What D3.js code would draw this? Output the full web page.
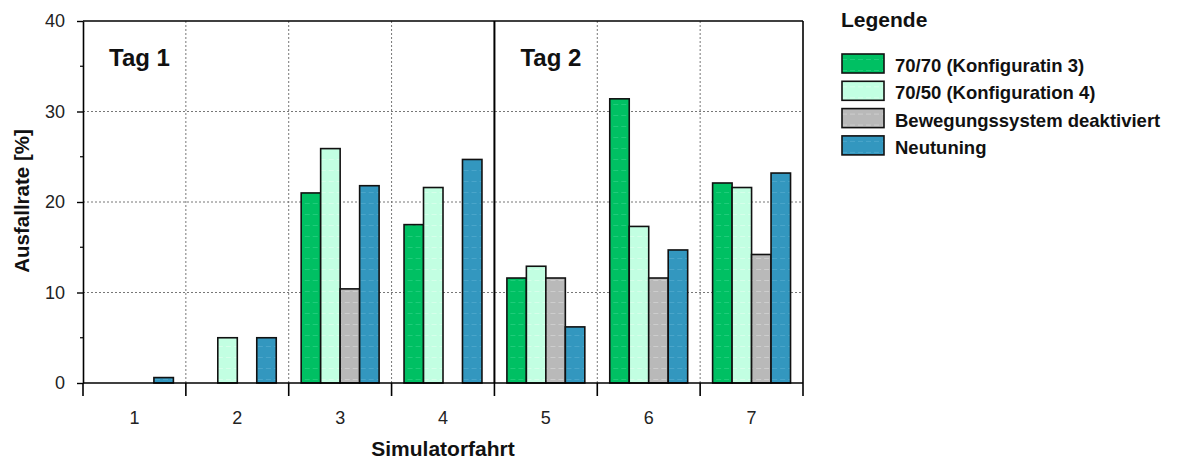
<!DOCTYPE html>
<html>
<head>
<meta charset="utf-8">
<script src="https://cdn.jsdelivr.net/npm/d3@7"></script>
<style>
  body { margin: 0; background: #fff; }
  svg { display: block; font-family: "Liberation Sans", Arial, sans-serif; }
</style>
</head>
<body>
<svg id="chart" width="1177" height="462"></svg>
<script>
// Simulator runs (x categories)
const runs = ["1", "2", "3", "4", "5", "6", "7"];
// Series names and colours
const seriesNames = ["70/70 (Konfiguratin 3)", "70/50 (Konfiguration 4)", "Bewegungssystem deaktiviert", "Neutuning"];
const seriesColors = ["#00c063", "#c2ffe2", "#b9b9b9", "#3397bf"];
const seriesLight = ["#33d488", "#e2fff0", "#dadada", "#5aafd2"];
// Failure rates [%] per series, one value per run
const konfig3 = [0, 0, 21.0, 17.5, 11.6, 31.4, 22.1];
const konfig4 = [0, 5.0, 25.9, 21.6, 12.9, 17.3, 21.6];
const deaktiviert = [0, 0, 10.4, 0, 11.6, 11.6, 14.2];
const neutuning = [0.6, 5.0, 21.8, 24.7, 6.2, 14.7, 23.2];
const seriesValues = [konfig3, konfig4, deaktiviert, neutuning];
// Axis ticks
const yTicks = [0, 10, 20, 30, 40];
const yMinorTicks = [5, 15, 25, 35];
const dayLabels = [{ text: "Tag 1", run: 0 }, { text: "Tag 2", run: 4 }];

const svg = d3.select("#chart");
const margin = { left: 83, right: 374, top: 21, bottom: 79 };
const W = 1177, H = 462;
const x0 = margin.left, x1 = W - margin.right;
const y0 = H - margin.bottom, y1 = margin.top;

const x = d3.scaleBand().domain(runs).range([x0, x1]).paddingInner(0).paddingOuter(0);
const xs = d3.scaleBand().domain(d3.range(4)).range([0, x.bandwidth()]).paddingOuter(0.64).paddingInner(0);
const y = d3.scaleLinear().domain([0, 40]).range([y0, y1]);

// Bar fill patterns: base colour with faint dashed horizontal stripes
const defs = svg.append("defs");
seriesColors.forEach((c, i) => {
  const p = defs.append("pattern").attr("id", "pat" + i)
    .attr("patternUnits", "userSpaceOnUse").attr("width", 8).attr("height", 11);
  p.append("rect").attr("width", 8).attr("height", 11).attr("fill", c);
  p.append("line").attr("x1", 0).attr("x2", 5).attr("y1", 5.5).attr("y2", 5.5)
    .attr("stroke", seriesLight[i]).attr("stroke-width", 1).attr("opacity", 0.6);
});

// Grid: horizontal dotted lines
svg.append("g").selectAll("line").data(yTicks.filter(d => d > 0 && d < 40)).join("line")
  .attr("x1", x0).attr("x2", x1).attr("y1", d => y(d)).attr("y2", d => y(d))
  .attr("stroke", "#777").attr("stroke-width", 1).attr("stroke-dasharray", "2,2");
// Grid: vertical dotted lines at run boundaries (solid line between the two days)
svg.append("g").selectAll("line").data(runs.slice(1)).join("line")
  .attr("x1", d => x(d)).attr("x2", d => x(d)).attr("y1", y1).attr("y2", y0)
  .attr("stroke", d => d === "5" ? "#000" : "#777")
  .attr("stroke-width", d => d === "5" ? 2 : 1)
  .attr("stroke-dasharray", d => d === "5" ? null : "2,2");

// Bars
const groups = svg.append("g").selectAll("g").data(runs).join("g")
  .attr("transform", d => `translate(${x(d)},0)`);
groups.selectAll("rect")
  .data((d, ri) => seriesValues.map((vals, si) => ({ si, v: vals[ri] })).filter(e => e.v > 0))
  .join("rect")
  .attr("x", e => xs(e.si))
  .attr("width", xs.bandwidth())
  .attr("y", e => y(e.v))
  .attr("height", e => y0 - y(e.v))
  .attr("fill", e => `url(#pat${e.si})`)
  .attr("stroke", "#111").attr("stroke-width", 1.6);

// Frame: top and right borders
svg.append("line").attr("x1", x0).attr("x2", x1).attr("y1", y1).attr("y2", y1).attr("stroke", "#000").attr("stroke-width", 1.6);
svg.append("line").attr("x1", x1).attr("x2", x1).attr("y1", y1).attr("y2", y0).attr("stroke", "#000").attr("stroke-width", 1.6);

// Y axis
const yAxis = d3.axisLeft(y).tickValues(yTicks).tickSize(6).tickPadding(12).tickSizeOuter(0);
const gy = svg.append("g").attr("transform", `translate(${x0},0)`).call(yAxis);
gy.select(".domain").attr("stroke", "#000").attr("stroke-width", 1.6);
gy.selectAll(".tick line").attr("stroke", "#000").attr("stroke-width", 1.4);
gy.selectAll(".tick text").attr("font-size", 18).attr("fill", "#222")
  .attr("font-family", "Liberation Sans, Arial, sans-serif");
svg.append("g").selectAll("line").data(yMinorTicks).join("line")
  .attr("x1", x0 - 3).attr("x2", x0).attr("y1", d => y(d)).attr("y2", d => y(d))
  .attr("stroke", "#000").attr("stroke-width", 1.2);

// X axis: ticks at run boundaries, labels centred
svg.append("line").attr("x1", x0).attr("x2", x1).attr("y1", y0).attr("y2", y0).attr("stroke", "#000").attr("stroke-width", 1.6);
const boundaries = runs.map(r => x(r)).concat([x1]);
svg.append("g").selectAll("line").data(boundaries).join("line")
  .attr("x1", d => d).attr("x2", d => d).attr("y1", y0).attr("y2", y0 + 13)
  .attr("stroke", "#000").attr("stroke-width", 1.6);
svg.append("g").selectAll("text").data(runs).join("text")
  .attr("x", d => x(d) + x.bandwidth() / 2).attr("y", 424)
  .attr("text-anchor", "middle").attr("font-size", 18).attr("fill", "#222").text(d => d);

// Axis titles
svg.append("text").attr("x", x0 + (x1 - x0) / 2).attr("y", 456)
  .attr("text-anchor", "middle").attr("font-size", 21).attr("font-weight", "bold").attr("fill", "#111")
  .text("Simulatorfahrt");
svg.append("text").attr("transform", `translate(29,201) rotate(-90)`)
  .attr("text-anchor", "middle").attr("font-size", 20.5).attr("font-weight", "bold").attr("fill", "#111")
  .text("Ausfallrate [%]");

// Day labels
svg.append("g").selectAll("text").data(dayLabels).join("text")
  .attr("x", d => x(runs[d.run]) + 26).attr("y", 66)
  .attr("font-size", 24).attr("font-weight", "bold").attr("fill", "#111").text(d => d.text);

// Legend
const lg = svg.append("g").attr("transform", "translate(842,0)");
lg.append("text").attr("x", -1).attr("y", 27).attr("font-size", 21).attr("font-weight", "bold")
  .attr("fill", "#111").text("Legende");
const items = lg.selectAll("g.item").data(seriesNames).join("g").attr("class", "item")
  .attr("transform", (d, i) => `translate(0,${54 + i * 27.3})`);
items.append("rect").attr("width", 42).attr("height", 19)
  .attr("fill", (d, i) => `url(#pat${i})`).attr("stroke", "#111").attr("stroke-width", 1.6);
items.append("text").attr("x", 53).attr("y", 18).attr("font-size", 18.5).attr("font-weight", "bold")
  .attr("fill", "#111").text(d => d);
</script>
</body>
</html>
